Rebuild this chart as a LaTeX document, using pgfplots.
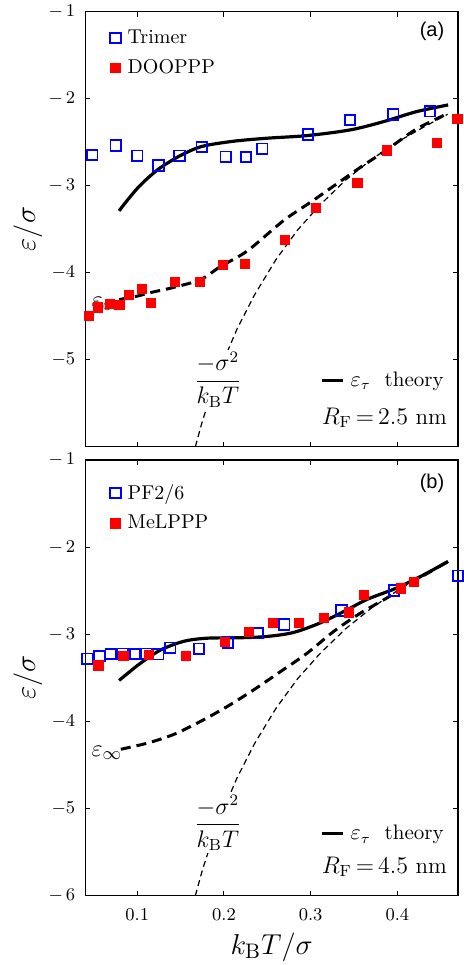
\documentclass[border=0pt]{standalone}
\usepackage{amsmath}
\usepackage{fontspec}
\newfontfamily\helv{Liberation Sans}
\usepackage{pgfplots}
\pgfplotsset{compat=1.18}
\usetikzlibrary{plotmarks}

\definecolor{pblue}{RGB}{0,0,255}
\definecolor{pred}{RGB}{255,0,0}

\pgfplotsset{
  panel/.style={
    scale only axis,
    width=186.35pt,
    xmin=0.04, xmax=0.47,
    ymin=-6, ymax=-1,
    xtick={0.1,0.2,0.3,0.4},
    tick align=inside,
    major tick length=2.5pt,
    tick style={black, line width=0.5pt},
    axis line style={line width=0.6pt},
    clip=false,
    ticklabel style={font=\fontsize{9.5}{11}\selectfont},
    xticklabel style={yshift=-3pt, /pgf/number format/fixed},
    yticklabel style={xshift=-1.5pt},
    ylabel={$\varepsilon/\sigma$},
    ylabel style={at={(axis description cs:-0.154,0.5)}, anchor=center, font=\fontsize{15}{18}\selectfont},
    legend cell align=left,
    legend style={at={(axis description cs:0.066,0.968)}, anchor=north west,
      draw=none, fill=none, inner sep=0pt, row sep=2.5pt, column sep=1.5pt,
      font=\fontsize{10}{12}\selectfont},
  },
}

\begin{document}
\begin{tikzpicture}
\useasboundingbox (0,0) rectangle (231.5pt,-482.5pt);

% ---------- panel (a)
\begin{axis}[panel, at={(42.65pt,-223.3pt)}, anchor=south west, height=217.5pt,
  ytick={-5,-4,-3,-2,-1}, yticklabels={$-5$,$-4$,$-\,3$,$-\,2$,$-\,1$},
  xticklabels={}]
\addplot[only marks, mark=square, mark size=2.6pt, color=pblue, mark options={line width=0.9pt}] coordinates {
 (0.048,-2.65)(0.075,-2.54)(0.100,-2.656)(0.1245,-2.77)(0.1487,-2.656)
 (0.1744,-2.557)(0.202,-2.668)(0.2254,-2.672)(0.2442,-2.576)(0.2968,-2.412)
 (0.3455,-2.244)(0.3954,-2.183)(0.4376,-2.145)
};
\addlegendentry{Trimer}
\addplot[only marks, mark=square*, mark size=2.3pt, color=pred, mark options={fill=pred}] coordinates {
 (0.044,-4.496)(0.0547,-4.401)(0.0682,-4.363)(0.0797,-4.374)(0.0904,-4.26)
 (0.1054,-4.183)(0.1157,-4.344)(0.143,-4.107)(0.172,-4.107)(0.1986,-3.912)
 (0.2239,-3.901)(0.2707,-3.626)(0.3064,-3.252)(0.354,-2.973)(0.3877,-2.595)
 (0.446,-2.508)(0.4694,-2.233)
};
\addlegendentry{DOOPPP}
\addplot[black, line width=0.6pt, dash pattern=on 3pt off 2pt, no marks, forget plot] coordinates {
 (0.167,-6.0)(0.175,-5.71)(0.185,-5.4)(0.2,-5.0)(0.215,-4.65)(0.235,-4.26)
 (0.26,-3.85)(0.285,-3.51)(0.31,-3.23)(0.34,-2.94)(0.37,-2.70)(0.4,-2.5)
 (0.43,-2.33)(0.458,-2.18)
};
\addplot[black, line width=1.5pt, dash pattern=on 5pt off 3pt, no marks, forget plot, smooth] coordinates {
 (0.079,-4.31)(0.1,-4.27)(0.115,-4.23)(0.142,-4.17)(0.173,-4.08)(0.196,-3.93)
 (0.227,-3.75)(0.269,-3.40)(0.303,-3.17)(0.353,-2.82)(0.3877,-2.59)
 (0.422,-2.35)(0.4586,-2.17)
};
\addplot[black, line width=1.6pt, no marks, forget plot, smooth] coordinates {
 (0.079,-3.29)(0.09,-3.15)(0.104,-2.99)(0.1245,-2.81)(0.1487,-2.66)
 (0.1744,-2.55)(0.211,-2.49)(0.25,-2.455)(0.296,-2.425)(0.3455,-2.36)
 (0.384,-2.265)(0.422,-2.15)(0.4586,-2.073)
};
\node[font=\helv\fontsize{10}{12}\selectfont] at (axis cs:0.44,-1.23) {(a)};
\node[font=\fontsize{12.5}{14}\selectfont, inner sep=0pt] at (axis cs:0.065,-4.36) {$\varepsilon_\infty$};
\node[font=\fontsize{11.5}{14}\selectfont, fill=white, inner sep=1pt] at (axis cs:0.193,-5.23) {$\dfrac{-\sigma^2}{k_{\mathrm{B}}T}$};
\node[anchor=east, inner sep=0pt, font=\fontsize{10.5}{12}\selectfont] at (axis cs:0.454,-5.25) {\rule[2.3pt]{10.3pt}{1.6pt}\hspace{4pt}$\varepsilon_\tau$\ \ theory};
\node[anchor=east, inner sep=0pt, font=\fontsize{11.5}{14}\selectfont] at (axis cs:0.4577,-5.67) {$R_{\mathrm{F}}\,{=}\,2.5$ nm};
\end{axis}

% ---------- panel (b)
\begin{axis}[panel, at={(42.65pt,-447.8pt)}, anchor=south west, height=217.8pt,
  ytick={-6,-5,-4,-3,-2,-1}, yticklabels={$-\,6$,$-5$,$-4$,$-\,3$,$-\,2$,$-\,1$},
  xlabel={$k_{\mathrm{B}}T/\sigma$},
  xlabel style={at={(axis description cs:0.5,-0.118)}, anchor=center, font=\fontsize{15}{18}\selectfont},
  legend style={at={(axis description cs:0.066,0.955)}}]
\addplot[only marks, mark=square, mark size=2.6pt, color=pblue, mark options={line width=0.9pt}] coordinates {
 (0.0425,-3.281)(0.0563,-3.254)(0.0693,-3.228)(0.0831,-3.224)(0.0973,-3.228)
 (0.1104,-3.224)(0.1242,-3.231)(0.138,-3.155)(0.1713,-3.166)(0.2047,-3.094)
 (0.2389,-2.99)(0.2695,-2.887)(0.3355,-2.727)(0.3961,-2.497)(0.4698,-2.329)
};
\addlegendentry{PF2/6}
\addplot[only marks, mark=square*, mark size=2.3pt, color=pred, mark options={fill=pred}] coordinates {
 (0.0551,-3.358)(0.0839,-3.25)(0.1138,-3.235)(0.1564,-3.25)(0.2009,-3.09)
 (0.2289,-2.971)(0.2569,-2.868)(0.2868,-2.868)(0.3152,-2.815)(0.344,-2.75)
 (0.3612,-2.551)(0.4038,-2.474)(0.4188,-2.402)
};
\addlegendentry{MeLPPP}
\addplot[black, line width=0.6pt, dash pattern=on 3pt off 2pt, no marks, forget plot] coordinates {
 (0.167,-6.0)(0.175,-5.71)(0.185,-5.4)(0.2,-5.0)(0.215,-4.65)(0.235,-4.26)
 (0.26,-3.85)(0.285,-3.51)(0.31,-3.23)(0.34,-2.94)(0.37,-2.70)(0.4,-2.5)
 (0.43,-2.33)(0.458,-2.18)
};
\addplot[black, line width=1.5pt, dash pattern=on 5pt off 3pt, no marks, forget plot, smooth] coordinates {
 (0.081,-4.32)(0.1115,-4.25)(0.142,-4.15)(0.173,-4.0)(0.2036,-3.83)
 (0.234,-3.64)(0.265,-3.43)(0.2956,-3.22)(0.3263,-2.97)(0.357,-2.76)
 (0.3877,-2.585)(0.422,-2.375)(0.4586,-2.164)
};
\addplot[black, line width=1.6pt, no marks, forget plot, smooth] coordinates {
 (0.079,-3.53)(0.09,-3.44)(0.104,-3.33)(0.127,-3.18)(0.154,-3.08)
 (0.181,-3.045)(0.219,-3.04)(0.25,-3.025)(0.28,-2.98)(0.311,-2.87)
 (0.342,-2.72)(0.365,-2.60)(0.399,-2.47)(0.43,-2.32)(0.4586,-2.164)
};
\node[font=\helv\fontsize{10}{12}\selectfont] at (axis cs:0.44,-1.27) {(b)};
\node[font=\fontsize{12.5}{14}\selectfont, inner sep=0pt] at (axis cs:0.065,-4.36) {$\varepsilon_\infty$};
\node[font=\fontsize{11.5}{14}\selectfont, fill=white, inner sep=1pt] at (axis cs:0.193,-5.17) {$\dfrac{-\sigma^2}{k_{\mathrm{B}}T}$};
\node[anchor=east, inner sep=0pt, font=\fontsize{10.5}{12}\selectfont] at (axis cs:0.454,-5.3) {\rule[2.3pt]{10.3pt}{1.6pt}\hspace{4pt}$\varepsilon_\tau$\ \ theory};
\node[anchor=east, inner sep=0pt, font=\fontsize{11.5}{14}\selectfont] at (axis cs:0.4577,-5.67) {$R_{\mathrm{F}}\,{=}\,4.5$ nm};
\end{axis}
\end{tikzpicture}
\end{document}
